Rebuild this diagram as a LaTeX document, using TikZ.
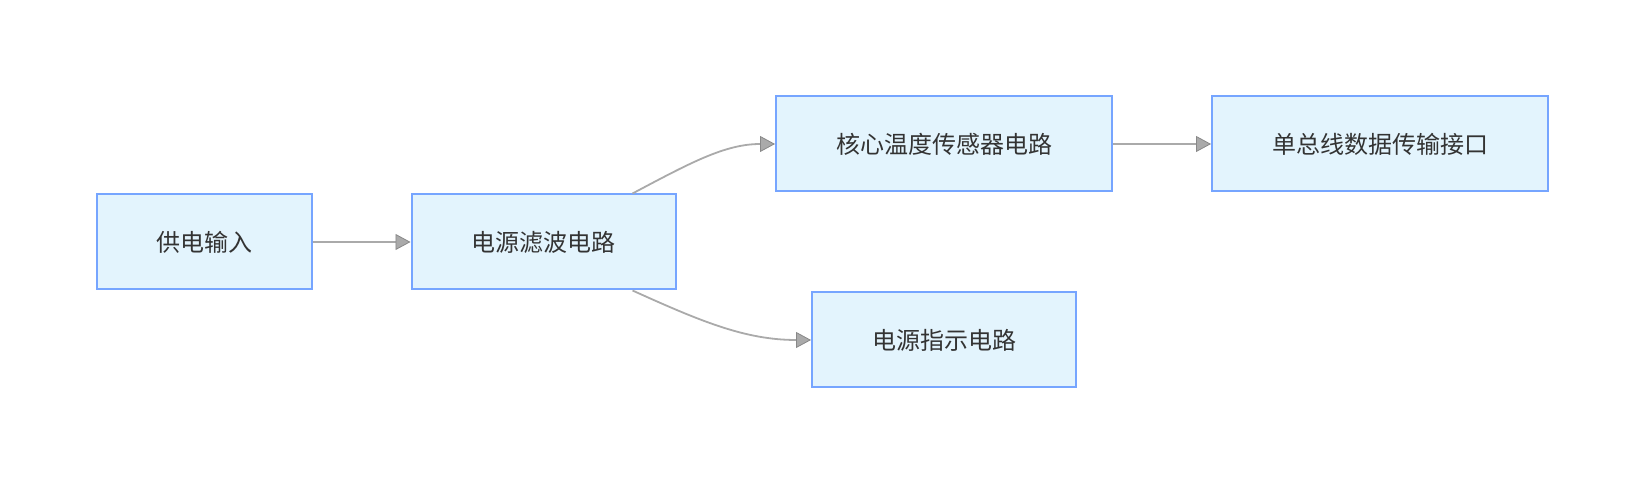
\documentclass[tikz,border=0pt]{standalone}
\usepackage{fontspec}
\newfontfamily\cjk{Noto Sans CJK SC}
\usepackage{xcolor}
\usetikzlibrary{positioning, arrows.meta}

\definecolor{boxfill}{HTML}{E3F4FD}
\definecolor{boxline}{HTML}{76A5FF}
\definecolor{linkgray}{HTML}{AAAAAA}
\definecolor{tipgray}{HTML}{888888}
\definecolor{textgray}{HTML}{333333}

\begin{document}
\begin{tikzpicture}[
        x=1pt, y=1pt,
        % horizontal gap between boxes: 98pt (border to border)
        node distance=98pt,
        every node/.style={font=\cjk\fontsize{24}{28}\selectfont, text=textgray},
        block/.style={draw=boxline, line width=2pt, fill=boxfill,
                      minimum height=95pt, inner sep=0pt},
        arrow/.style={draw=linkgray, line width=1.8pt,
                      -{Triangle[length=15pt, width=16pt, color=tipgray, fill=linkgray, line width=0.8pt]}}
    ]
    \useasboundingbox (0,0) rectangle (1644,484);

    % --- Left chain ---
    \node[block, minimum width=215pt] (supply) at (204,242) {供电输入};
    \node[block, minimum width=264pt, right=of supply] (filter) {电源滤波电路};

    % --- Upper branch ---
    \node[block, minimum width=336pt] (sensor) at (944,340) {核心温度传感器电路};
    \node[block, minimum width=336pt, right=of sensor] (bus) {单总线数据传输接口};

    % --- Lower branch ---
    \node[block, minimum width=264pt] (indicator) at (944,144) {电源指示电路};

    % --- Arrows ---
    \draw[arrow] (supply) -- (filter);
    \draw[arrow] ([xshift=89pt]filter.north) .. controls (690,321) and (725,340) .. (sensor.west);
    \draw[arrow] ([xshift=89pt]filter.south) .. controls (700,163) and (745,144) .. (indicator.west);
    \draw[arrow] (sensor) -- (bus);

\end{tikzpicture}
\end{document}
